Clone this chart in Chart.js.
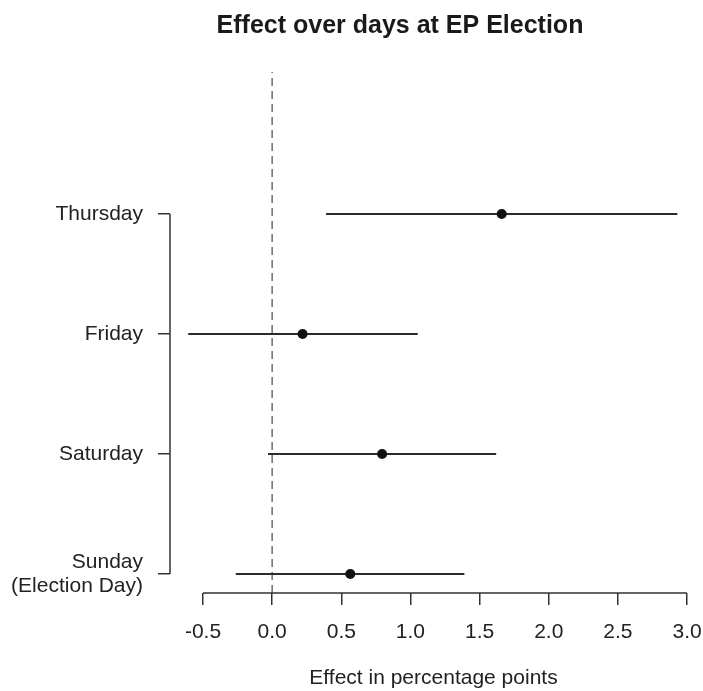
<!DOCTYPE html>
<html>
<head>
<meta charset="utf-8">
<script src="https://cdn.jsdelivr.net/npm/chart.js@4/dist/chart.umd.min.js"></script>
<style>
  html, body { margin: 0; padding: 0; background: #fff; }
  canvas { display: block; }
</style>
</head>
<body>
<canvas id="effectChart" width="703" height="691"></canvas>
<script>
// day labels, top to bottom
var days = ['Thursday', 'Friday', 'Saturday', ['Sunday', '(Election Day)']]
var dayPos = [4, 3, 2, 1]
// point estimates and interval ends (percentage points)
var estimate = [1.66, 0.22, 0.795, 0.565]
var lower = [0.39, -0.607, -0.03, -0.263]
var upper = [2.93, 1.053, 1.62, 1.39]
var xTicks = [-0.5, 0, 0.5, 1, 1.5, 2, 2.5, 3]

// R-style plot region (4% padding around the data range)
var xMin = -0.7386
var xMax = 3.072
var yMin = 0.842
var yMax = 5.183

var FONT = '"Liberation Sans", Arial, sans-serif'
var INK = '#222'

// axis lines that only span the tick range, plus the title
const rAxes = {
  id: 'rAxes',
  afterDraw(chart) {
    const ctx = chart.ctx
    const x = chart.scales.x
    const y = chart.scales.y
    const area = chart.chartArea
    ctx.save()
    ctx.strokeStyle = '#333'
    ctx.lineWidth = 1.5
    ctx.beginPath()
    ctx.moveTo(x.getPixelForValue(xTicks[0]), area.bottom)
    ctx.lineTo(x.getPixelForValue(xTicks[xTicks.length - 1]), area.bottom)
    ctx.moveTo(area.left, y.getPixelForValue(dayPos[0]))
    ctx.lineTo(area.left, y.getPixelForValue(dayPos[dayPos.length - 1]))
    ctx.stroke()

    ctx.fillStyle = '#1a1a1a'
    ctx.font = 'bold 25px ' + FONT
    ctx.textAlign = 'center'
    ctx.textBaseline = 'alphabetic'
    ctx.fillText('Effect over days at EP Election', 400, 33)
    ctx.restore()
  },
}

function noPad(s) {
  s.paddingLeft = 0
  s.paddingRight = 0
  s.paddingTop = 0
  s.paddingBottom = 0
}

const datasets = [
  {
    label: 'estimate',
    data: days.map((d, i) => ({ x: estimate[i], y: dayPos[i] })),
    pointRadius: 5,
    pointBackgroundColor: '#111',
    pointBorderWidth: 0,
    order: 0,
  },
]
days.forEach((d, i) => {
  datasets.push({
    label: 'ci' + i,
    data: [
      { x: lower[i], y: dayPos[i] },
      { x: upper[i], y: dayPos[i] },
    ],
    showLine: true,
    pointRadius: 0,
    borderColor: '#2b2b2b',
    borderWidth: 2,
    order: 1,
  })
})
// zero reference line across the plot region
datasets.push({
  label: 'zero',
  data: [
    { x: 0, y: yMin },
    { x: 0, y: yMax },
  ],
  showLine: true,
  pointRadius: 0,
  borderColor: '#6e6e6e',
  borderWidth: 1.5,
  borderDash: [8, 5],
  order: 2,
})

const ctx = document.getElementById('effectChart').getContext('2d')
const myChart = new Chart(ctx, {
  type: 'scatter',
  data: { datasets: datasets },
  options: {
    responsive: false,
    animation: false,
    devicePixelRatio: 1,
    events: [],
    layout: { padding: { top: 72, right: 6, bottom: 0, left: 0 } },
    plugins: {
      legend: { display: false },
      tooltip: { enabled: false },
      title: { display: false },
    },
    scales: {
      x: {
        type: 'linear',
        min: xMin,
        max: xMax,
        afterBuildTicks: (s) => {
          s.ticks = xTicks.map((v) => ({ value: v }))
        },
        afterFit: (s) => {
          s.height = 98
          noPad(s)
        },
        ticks: {
          callback: (v) => Number(v).toFixed(1),
          font: { family: FONT, size: 21 },
          color: INK,
          padding: 15,
          autoSkip: false,
          maxRotation: 0,
        },
        grid: {
          drawOnChartArea: false,
          drawTicks: true,
          tickLength: 12,
          color: '#333',
          lineWidth: 1.5,
        },
        border: { display: false },
        title: {
          display: true,
          text: 'Effect in percentage points',
          font: { family: FONT, size: 21 },
          color: INK,
          padding: { top: 0, bottom: 0 },
        },
      },
      y: {
        type: 'linear',
        min: yMin,
        max: yMax,
        afterBuildTicks: (s) => {
          s.ticks = dayPos.map((v) => ({ value: v }))
        },
        afterFit: (s) => {
          s.width = 170
          noPad(s)
        },
        ticks: {
          callback: (v) => days[dayPos.indexOf(v)],
          font: { family: FONT, size: 21, lineHeight: 1.15 },
          color: INK,
          padding: 15,
          autoSkip: false,
        },
        grid: {
          drawOnChartArea: false,
          drawTicks: true,
          tickLength: 12,
          color: '#333',
          lineWidth: 1.5,
        },
        border: { display: false },
      },
    },
  },
  plugins: [rAxes],
})
</script>
</body>
</html>
